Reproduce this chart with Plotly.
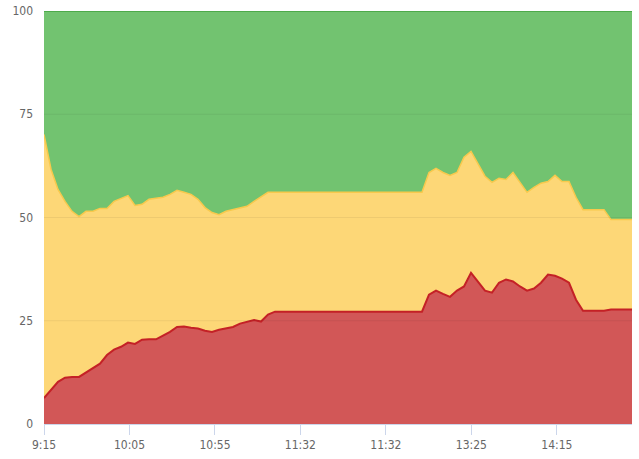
import numpy as np
import plotly.graph_objects as go

# Tick labels (category labels shown every ~12 samples)
tick_labels = ["9:15", "10:05", "10:55", "11:32", "11:32", "13:25", "14:15"]

# Series values (percent), 85 samples
red = [6.3, 8.3, 10.2, 11.2, 11.4, 11.4, 12.4, 13.6, 14.6, 16.7,
       18.0, 18.7, 19.7, 19.4, 20.4, 20.5, 20.5, 21.4, 22.3, 23.5,
       23.6, 23.3, 23.1, 22.6, 22.3, 22.8, 23.1, 23.5, 24.3, 24.8,
       25.2, 24.8, 26.5, 27.2, 27.2, 27.2, 27.2, 27.2, 27.2, 27.2,
       27.2, 27.2, 27.2, 27.2, 27.2, 27.2, 27.2, 27.2, 27.2, 27.2,
       27.2, 27.2, 27.2, 27.2, 27.2, 31.3, 32.3, 31.5, 30.8, 32.3,
       33.3, 36.6, 34.5, 32.3, 31.8, 34.2, 35.0, 34.5, 33.3, 32.3,
       32.8, 34.2, 36.2, 35.9, 35.2, 34.2, 30.1, 27.4, 27.4, 27.4,
       27.4, 27.7, 27.7, 27.7, 27.7]

yellow = [63.8, 53.4, 46.6, 42.7, 40.1, 38.8, 39.1, 37.9, 37.6, 35.5,
          35.9, 35.9, 35.6, 33.5, 32.8, 33.9, 34.1, 33.5, 33.3, 33.1,
          32.5, 32.3, 31.3, 29.8, 28.9, 27.9, 28.4, 28.4, 27.9, 27.9,
          28.7, 30.1, 29.6, 28.9, 28.9, 28.9, 28.9, 28.9, 28.9, 28.9,
          28.9, 28.9, 28.9, 28.9, 28.9, 28.9, 28.9, 28.9, 28.9, 28.9,
          28.9, 28.9, 28.9, 28.9, 28.9, 29.6, 29.6, 29.4, 29.4, 28.6,
          31.3, 29.4, 28.5, 27.7, 26.7, 25.3, 24.2, 26.4, 25.2, 23.8,
          24.5, 24.1, 22.5, 24.3, 23.5, 24.5, 24.8, 24.5, 24.5, 24.5,
          24.5, 21.8, 21.8, 21.8, 21.8]

green = [29.9, 38.3, 43.2, 46.1, 48.5, 49.8, 48.5, 48.5, 47.8, 47.8,
         46.1, 45.4, 44.7, 47.1, 46.8, 45.6, 45.4, 45.1, 44.4, 43.4,
         43.9, 44.4, 45.6, 47.6, 48.8, 49.3, 48.5, 48.1, 47.8, 47.3,
         46.1, 45.1, 43.9, 43.9, 43.9, 43.9, 43.9, 43.9, 43.9, 43.9,
         43.9, 43.9, 43.9, 43.9, 43.9, 43.9, 43.9, 43.9, 43.9, 43.9,
         43.9, 43.9, 43.9, 43.9, 43.9, 39.1, 38.1, 39.1, 39.8, 39.1,
         35.4, 34.0, 37.0, 40.0, 41.5, 40.5, 40.8, 39.1, 41.5, 43.9,
         42.7, 41.7, 41.3, 39.8, 41.3, 41.3, 45.1, 48.1, 48.1, 48.1,
         48.1, 50.5, 50.5, 50.5, 50.5]

SAMPLES_PER_TICK = 12.21
x = np.arange(len(red)) / SAMPLES_PER_TICK
tick_pos = list(range(len(tick_labels)))

FONT = "Liberation Sans Narrow, Arial Narrow, DejaVu Sans Condensed, sans-serif"

fig = go.Figure()
fig.add_trace(go.Scatter(x=x, y=red, stackgroup="s", mode="lines",
                         line=dict(color="#c42126", width=2),
                         fillcolor="#d25757", name="red", hoverinfo="skip"))
fig.add_trace(go.Scatter(x=x, y=yellow, stackgroup="s", mode="lines",
                         line=dict(color="#f8c94c", width=1.5),
                         fillcolor="#fdd777", name="yellow", hoverinfo="skip"))
fig.add_trace(go.Scatter(x=x, y=green, stackgroup="s", mode="lines",
                         line=dict(color="#4daa4a", width=2),
                         fillcolor="#72c370", name="green", hoverinfo="skip"))

for gv in [25, 50, 75]:
    fig.add_shape(type="line", xref="paper", yref="y", x0=0, x1=1, y0=gv, y1=gv,
                  line=dict(color="rgba(0,0,0,0.06)", width=1), layer="above")

fig.update_layout(
    width=639, height=459,
    margin=dict(l=44, r=7, t=11, b=35, autoexpand=False),
    paper_bgcolor="white", plot_bgcolor="white",
    showlegend=False,
    font=dict(family=FONT, size=12, color="#666666"),
    xaxis=dict(range=[0, x[-1]], tickvals=tick_pos, ticktext=tick_labels,
               showgrid=False, zeroline=False, showline=True, linecolor="#ccd6eb",
               linewidth=1, ticks="outside", ticklen=10, tickcolor="#ccd6eb",
               automargin=False,
               tickfont=dict(family=FONT, size=12, color="#666666")),
    yaxis=dict(range=[0, 100], tickvals=[0, 25, 50, 75, 100],
               showgrid=False, zeroline=False, showline=False,
               ticks="", ticklabelstandoff=10, automargin=False,
               tickfont=dict(family=FONT, size=12, color="#666666")),
)

fig.write_html("out.html", config={"displayModeBar": False},
               post_script="document.body.style.margin='0';document.body.style.overflow='hidden';")
